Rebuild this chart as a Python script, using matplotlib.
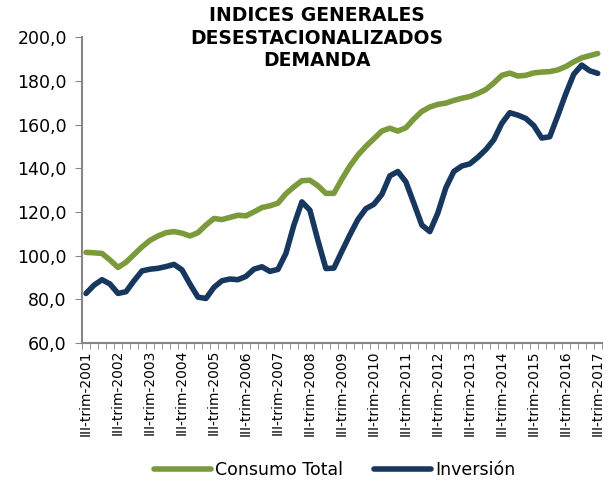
import numpy as np
import matplotlib
matplotlib.use("Agg")
import matplotlib.pyplot as plt

# III trimestre 2001 .. III trimestre 2017 (65 trimestres)
trimestres = ["I", "II", "III", "IV"]
periodos = []
for anio in range(2001, 2018):
    for t in trimestres:
        periodos.append(f"{t}-trim-{anio}")
periodos = periodos[2:2 + 65]

consumo_total = [
    101.5, 101.3, 101.0, 98.0, 94.6, 97.0, 100.5, 104.0, 107.0, 109.0,
    110.5, 111.0, 110.3, 109.0, 110.5, 114.0, 117.0, 116.5, 117.5, 118.5,
    118.2, 120.0, 122.0, 122.8, 124.0, 128.3, 131.5, 134.3, 134.5, 132.0,
    128.5, 128.5, 135.0, 141.0, 146.0, 150.0, 153.5, 157.0, 158.3, 157.0,
    158.5, 162.5, 166.0, 168.0, 169.2, 169.8, 171.0, 172.0, 172.8, 174.2,
    176.0, 179.0, 182.5, 183.5, 182.2, 182.5, 183.6, 184.0, 184.2, 185.0,
    186.5, 188.7, 190.5, 191.5, 192.5,
]

inversion = [
    82.7, 86.5, 89.0, 87.0, 82.7, 83.5, 88.5, 93.0, 93.8, 94.2,
    95.0, 96.0, 93.5, 87.0, 81.0, 80.4, 85.5, 88.5, 89.3, 89.0,
    90.5, 93.8, 94.9, 92.8, 93.7, 101.0, 114.0, 124.6, 120.8, 107.0,
    94.1, 94.3, 102.0, 109.5, 116.5, 121.5, 123.5, 128.0, 136.5, 138.5,
    133.8, 124.0, 114.0, 111.0, 119.5, 131.0, 138.5, 141.0, 142.0, 145.0,
    148.5, 153.0, 160.5, 165.4, 164.3, 162.8, 159.5, 153.8, 154.4, 164.0,
    174.0, 183.0, 187.2, 184.6, 183.4,
]

y_ticks = [60, 80, 100, 120, 140, 160, 180, 200]

verde = "#7a9a3c"
azul = "#17375e"
gris = "#868686"

fig = plt.figure(figsize=(6.14, 4.88), dpi=100)
ax = fig.add_axes([0.1336, 0.297, 0.8464, 0.627])

x = np.arange(len(periodos))
ax.plot(x, consumo_total, color=verde, lw=4, solid_joinstyle="round",
        solid_capstyle="round", label="Consumo Total")
ax.plot(x, inversion, color=azul, lw=4, solid_joinstyle="round",
        solid_capstyle="round", label="Inversión")

ax.set_xlim(-0.5, len(periodos) - 0.5)
ax.set_ylim(60, 200)

ax.set_yticks(y_ticks)
ax.set_yticklabels([f"{v:.1f}".replace(".", ",") for v in y_ticks], fontsize=12.5)

# etiquetas cada 4 trimestres, marcas entre categorias
ax.set_xticks(x[::4])
ax.set_xticklabels(periodos[::4], rotation=90, fontsize=10)
ax.set_xticks(np.arange(-0.5, len(periodos)), minor=True)
ax.tick_params(axis="x", which="major", length=0, pad=5)
ax.tick_params(axis="x", which="minor", length=4, color=gris, direction="out")
ax.tick_params(axis="y", length=5, color=gris, direction="out", pad=6)

for s in ["top", "right"]:
    ax.spines[s].set_visible(False)
for s in ["left", "bottom"]:
    ax.spines[s].set_color(gris)
    ax.spines[s].set_linewidth(1.5)

fig.text(0.516, 0.988, "INDICES GENERALES\nDESESTACIONALIZADOS\nDEMANDA",
         ha="center", va="top", fontsize=13.5, fontweight="bold",
         linespacing=1.25, zorder=5)

fig.legend(loc="center", bbox_to_anchor=(0.545, 0.036), ncol=2,
           frameon=False, fontsize=12.5, handlelength=3.3,
           columnspacing=1.8, handletextpad=0.2)

fig.savefig("out.png", dpi=100)
